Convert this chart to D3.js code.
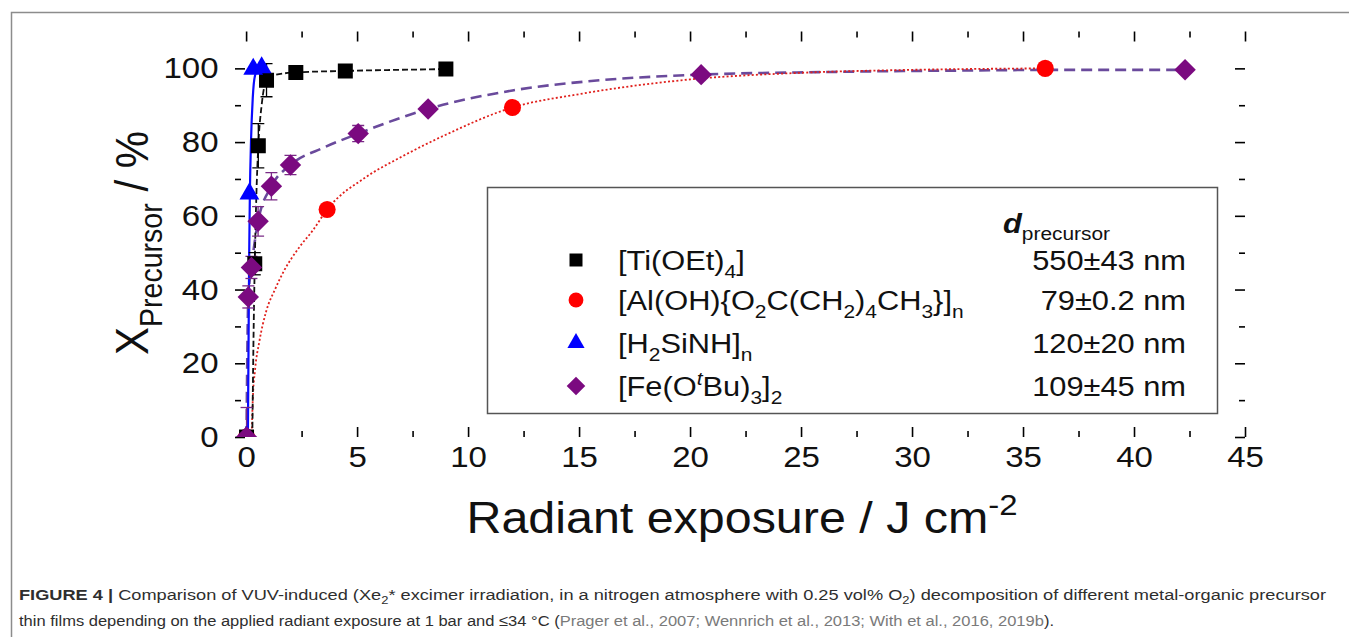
<!DOCTYPE html>
<html>
<head>
<meta charset="utf-8">
<script src="https://cdn.jsdelivr.net/npm/d3@7"></script>
<style>
  body { margin: 0; background: #fff; }
  svg { display: block; }
  text { font-family: "Liberation Sans", Arial, sans-serif; }
</style>
</head>
<body>
<svg id="fig" width="1349" height="637"></svg>
<script>
// Values
const tiX   = [0.02, 0.39, 0.55, 0.92, 2.24, 4.47, 9.0];
const tiY   = [0, 47, 79, 96.8, 98.9, 99.3, 99.8];
const tiErr = [0, 3, 6, 4.5, 0.8, 0.5, 0.5];
const tiFitX = [0.28, 0.33, 0.39, 0.46, 0.55, 0.7, 0.92, 1.3, 2.24, 4.47, 9.0];
const tiFitY = [0, 25, 47, 65, 79, 90, 96.8, 98.2, 98.9, 99.3, 99.8];

const alX = [0.02, 3.65, 12, 36];
const alY = [0, 61.7, 89.4, 100];
const alFitX = [0.25, 0.3, 0.4, 0.6, 0.9, 1.3, 1.7, 2.4, 3.0, 3.65, 5.4, 7, 9, 12, 15, 20, 25, 30, 36];
const alFitY = [0, 10, 18, 26, 34, 40, 45, 51.5, 56, 61.7, 70.5, 76, 82, 89.4, 93, 97, 98.8, 99.6, 100];

const siX = [0.02, 0.15, 0.32, 0.7];
const siY = [0, 66, 99.8, 100.2];
const siFitX = [0.08, 0.11, 0.14, 0.17, 0.22, 0.3, 0.4, 0.55, 0.7];
const siFitY = [0, 25, 50, 66, 80, 92, 98, 99.8, 100];

const feX   = [0.02, 0.1, 0.24, 0.54, 1.14, 2.0, 5.05, 8.2, 20.5, 42.3];
const feY   = [0, 38, 46, 58.5, 68, 73.8, 82.3, 89, 98.3, 99.6];
const feErr = [8, 3, 3, 4, 3.7, 2.6, 2.2, 1, 0.5, 0.5];
const feFitX = [0.02, 0.06, 0.1, 0.24, 0.54, 1.14, 2.0, 3.5, 5.05, 8.2, 12, 16, 20.5, 26, 32, 37, 42.3];
const feFitY = [0, 25, 38, 46, 58.5, 68, 73.8, 78.5, 82.3, 89, 94, 96.8, 98.3, 99.0, 99.4, 99.6, 99.6];

const xMajor = [0, 5, 10, 15, 20, 25, 30, 35, 40, 45];
const xMinor = [2.5, 7.5, 12.5, 17.5, 22.5, 27.5, 32.5, 37.5, 42.5];
const yMajor = [0, 20, 40, 60, 80, 100];
const yMinor = [10, 30, 50, 70, 90];

const legendNames = ["[Ti(OEt)_<4>]", "[Al(OH){O_<2>C(CH_<2>)_<4>CH_<3>}]_<n>", "[H_<2>SiNH]_<n>", "[Fe(O^i<t>Bu)_<3>]_<2>"];
const legendThick = ["550±43 nm", "79±0.2 nm", "120±20 nm", "109±45 nm"];

const SX = 1.1; // the figure is slightly stretched horizontally

const svg = d3.select("#fig");
const x = d3.scaleLinear().domain([-0.5, 45]).range([235, 1245]);
const y = d3.scaleLinear().domain([0, 110]).range([437, 31.5]);

// outer figure frame
svg.append("path").attr("d", "M11.5,637V12.5H1349").attr("fill", "none").attr("stroke", "#8c8c8c").attr("stroke-width", 1.5);

function richText(sel, str, size) {
    const parts = str.split(/(_<[^>]*>|\^i?<[^>]*>)/).filter(s => s.length);
    let shift = 0;
    parts.forEach(p => {
        const m = p.match(/^(_|\^i?)<([^>]*)>$/);
        if (m) {
            const target = m[1] === "_" ? size * 0.3 : -size * 0.4;
            sel.append("tspan").attr("dy", target - shift).style("font-size", (size * 0.68) + "px")
                .style("font-style", m[1] === "^i" ? "italic" : null).text(m[2]);
            shift = target;
        } else {
            sel.append("tspan").attr("dy", -shift).text(p);
            shift = 0;
        }
    });
}

function placeText(g, px, py, rot) {
    return g.append("text").attr("transform", `translate(${px},${py}) scale(${SX},1)` + (rot ? ` rotate(${rot})` : ""));
}

// axes (ticks inward, all four sides)
const axisStyle = (g, labels) => {
    g.select(".domain").remove();
    g.selectAll("line").attr("stroke", "#000").attr("stroke-width", 1.6);
    g.selectAll("text").style("font-size", "30px").attr("fill", "#111").attr("transform", labels ? `scale(${SX},1)` : null);
};
svg.append("g").attr("transform", "translate(0,437)")
    .call(d3.axisBottom(x).tickValues(xMajor).tickSize(-10).tickPadding(9).tickFormat(d3.format("d")))
    .call(g => axisStyle(g, true));
svg.append("g").attr("transform", "translate(0,437)")
    .call(d3.axisBottom(x).tickValues(xMinor).tickSize(-6).tickFormat(""))
    .call(g => axisStyle(g, false));
svg.append("g").attr("transform", "translate(0,31.5)")
    .call(d3.axisTop(x).tickValues(xMajor).tickSize(-10).tickFormat(""))
    .call(g => axisStyle(g, false));
svg.append("g").attr("transform", "translate(0,31.5)")
    .call(d3.axisTop(x).tickValues(xMinor).tickSize(-6).tickFormat(""))
    .call(g => axisStyle(g, false));
svg.append("g").attr("transform", "translate(235,0)")
    .call(d3.axisLeft(y).tickValues(yMajor).tickSize(-10).tickPadding(15))
    .call(g => axisStyle(g, true));
svg.append("g").attr("transform", "translate(235,0)")
    .call(d3.axisLeft(y).tickValues(yMinor).tickSize(-6).tickFormat(""))
    .call(g => axisStyle(g, false));
svg.append("g").attr("transform", "translate(1245,0)")
    .call(d3.axisRight(y).tickValues(yMajor).tickSize(-10).tickFormat(""))
    .call(g => axisStyle(g, false));
svg.append("g").attr("transform", "translate(1245,0)")
    .call(d3.axisRight(y).tickValues(yMinor).tickSize(-6).tickFormat(""))
    .call(g => axisStyle(g, false));

// legend box
const lg = svg.append("g");
lg.append("rect").attr("x", 487.5).attr("y", 187.5).attr("width", 730).attr("height", 226)
    .attr("fill", "#fff").attr("stroke", "#555").attr("stroke-width", 1.5);

// data, clipped to the plot frame
svg.append("clipPath").attr("id", "plotclip").append("rect")
    .attr("x", 235).attr("y", 31.5).attr("width", 1010).attr("height", 405.5);
const plot = svg.append("g").attr("clip-path", "url(#plotclip)");

const line = d3.line().x(d => x(d[0])).y(d => y(d[1])).curve(d3.curveMonotoneX);
const fits = [
    { xs: feFitX, ys: feFitY, color: "#6a4a9c", w: 2.6, dash: "11,6" },
    { xs: alFitX, ys: alFitY, color: "#e0201c", w: 1.8, dash: "2,2.2" },
    { xs: tiFitX, ys: tiFitY, color: "#111", w: 1.8, dash: "6,3" },
    { xs: siFitX, ys: siFitY, color: "#0a0aff", w: 2.2, dash: null }
];
fits.forEach(f => {
    plot.append("path").datum(f.xs.map((v, i) => [v, f.ys[i]]))
        .attr("d", line).attr("fill", "none").attr("stroke", f.color)
        .attr("stroke-width", f.w).attr("stroke-dasharray", f.dash);
});

function errorBars(xs, ys, errs, color) {
    xs.forEach((v, i) => {
        if (!errs[i]) return;
        const cx = x(v), y0 = y(ys[i] - errs[i]), y1 = y(ys[i] + errs[i]);
        const g = plot.append("g").attr("stroke", color).attr("stroke-width", 1.3);
        g.append("line").attr("x1", cx).attr("x2", cx).attr("y1", y0).attr("y2", y1);
        g.append("line").attr("x1", cx - 6).attr("x2", cx + 6).attr("y1", y0).attr("y2", y0);
        g.append("line").attr("x1", cx - 6).attr("x2", cx + 6).attr("y1", y1).attr("y2", y1);
    });
}
errorBars(tiX, tiY, tiErr, "#000");
errorBars(feX, feY, feErr, "#7a2a86");

const SYM = {
    square:   { type: d3.symbolSquare,   size: 225, rot: 0,  color: "#000" },
    circle:   { type: d3.symbolCircle,   size: 230, rot: 0,  color: "#ff0000" },
    triangle: { type: d3.symbolTriangle, size: 170, rot: 0,  color: "#0000ff" },
    diamond:  { type: d3.symbolSquare,   size: 230, rot: 45, color: "#7b0a80" }
};
function markers(xs, ys, key) {
    const s = SYM[key];
    plot.selectAll(null).data(xs.map((v, i) => [v, ys[i]])).enter().append("path")
        .attr("d", d3.symbol().type(s.type).size(s.size))
        .attr("transform", d => `translate(${x(d[0])},${y(d[1])}) rotate(${s.rot})`)
        .attr("fill", s.color);
}
markers(alX, alY, "circle");
markers(tiX, tiY, "square");
markers(siX, siY, "triangle");
markers(feX, feY, "diamond");

// legend content
const dHead = placeText(lg, 1003, 233, 0).style("font-size", "28px").attr("fill", "#111");
dHead.append("tspan").style("font-style", "italic").style("font-weight", "bold").text("d");
dHead.append("tspan").attr("dy", 7).style("font-size", "19px").text("precursor");

const symKeys = ["square", "circle", "triangle", "diamond"];
const rowY = [260, 300, 343, 386];
symKeys.forEach((k, i) => {
    const s = SYM[k];
    lg.append("path").attr("d", d3.symbol().type(s.type).size(s.size * 0.75))
        .attr("transform", `translate(576,${rowY[i]}) rotate(${s.rot})`).attr("fill", s.color);
    const t = placeText(lg, 618, rowY[i] + 10, 0).style("font-size", "28px").attr("fill", "#111");
    richText(t, legendNames[i], 28);
    placeText(lg, 1186, rowY[i] + 10, 0).style("font-size", "28px").attr("fill", "#111")
        .attr("text-anchor", "end").text(legendThick[i]);
});

// axis titles
const xt = placeText(svg, 742, 533, 0).attr("text-anchor", "middle").style("font-size", "44px").attr("fill", "#111");
richText(xt, "Radiant exposure / J cm^<-2>", 44);
const yt = placeText(svg, 148, 243, -90).attr("text-anchor", "middle").style("font-size", "42px").attr("fill", "#111");
richText(yt, "X_<Precursor> / %", 42);

// caption
const cap1 = svg.append("text").attr("x", 19).attr("y", 600).style("font-size", "15.5px").attr("fill", "#2e2e2e")
    .attr("textLength", 1307).attr("lengthAdjust", "spacingAndGlyphs");
cap1.append("tspan").style("font-weight", "bold").text("FIGURE 4 | ");
cap1.append("tspan").text("Comparison of VUV-induced (Xe");
cap1.append("tspan").attr("dy", 4).style("font-size", "11px").text("2");
cap1.append("tspan").attr("dy", -4).text("* excimer irradiation, in a nitrogen atmosphere with 0.25 vol% O");
cap1.append("tspan").attr("dy", 4).style("font-size", "11px").text("2");
cap1.append("tspan").attr("dy", -4).text(") decomposition of different metal-organic precursor");

const cap2 = svg.append("text").attr("x", 19).attr("y", 626).style("font-size", "15.5px").attr("fill", "#2e2e2e")
    .attr("textLength", 1035).attr("lengthAdjust", "spacingAndGlyphs");
cap2.append("tspan").text("thin films depending on the applied radiant exposure at 1 bar and ≤34 °C (");
cap2.append("tspan").attr("fill", "#7a7a7a").text("Prager et al., 2007; Wennrich et al., 2013; With et al., 2016, 2019b");
cap2.append("tspan").text(").");
</script>
</body>
</html>
